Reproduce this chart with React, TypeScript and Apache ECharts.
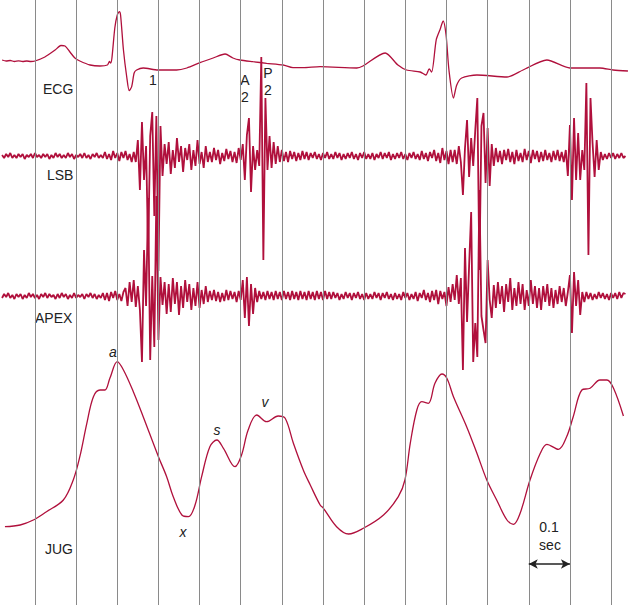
import React, { useEffect, useRef } from "react";
import * as echarts from "echarts";

// time axis in milliseconds; vertical timing lines every 100 ms (0.1 sec)
const TIME_LINES = [0, 100, 200, 300, 400, 500, 600, 700, 800, 900, 1000, 1100, 1200, 1300, 1400];

// ECG: [ms, deflection]
const ECG: [number, number][] = [
  [-80, 2], [-70, 1], [-60, 1.5], [-50, 0.5], [-40, 1.2], [-30, 0.5], [-20, 1], [-10, 0.5], [0, 1],
  [24, 5], [49, 12], [63, 16.5], [73, 16], [85, 10], [97, 4], [109, 1], [134, -3], [158, -4],
  [176, -3], [181, 0.5], [184, -1], [187, 4], [194, 34], [200, 47], [205, 50.3], [208, 47],
  [215, 12], [223, -15], [229, -28.7], [235, -24.7], [241, -11], [247, -8], [263, -6], [299, -8],
  [344, -8], [369, -6], [401, -0.7], [433, 4], [462, 8], [481, 4], [498, 2], [530, 0.3], [563, -1.3],
  [603, -3], [627, -5.7], [651, -5.7], [693, -4.7], [782, -6], [797, -4], [851, 9], [882, -3],
  [903, -8], [936, -10], [950, -13], [958, -7], [964, -10], [975, 22], [984, 32], [992, 41],
  [999, 27], [1006, -8], [1017, -36], [1025, -23], [1037, -16], [1074, -13], [1147, -15],
  [1186, -8], [1244, 2], [1300, -6], [1373, -6], [1405, -8], [1441, -9],
];

// phonocardiograms sampled every 5 ms starting at -80 ms
const PCG_T0 = -80;
const PCG_DT = 5;

const LSB: number[] = [
  1, -2, 2, -1, 3, -2, 1, -2, 2, -1,
  2, -3, 1, -1, 2, -2, 3, -1, 1, -2,
  2, -1, 2, -3, 1, -2, 3, -1, 2, -2,
  1, -2, 3, -1, 2, -3, 1, -1, 2, -2,
  3, -2, 1, -3, 2, -1, 3, -2, 1, -2,
  4, -3, 2, -4, 5, -2, 3, -5, 4, -2,
  5, -4, 2, -6,
  4, -6, 16, -34, 34, -24, 10, -95, 20, 44, -60, 40, -115, 30, -20, 12,
  -8, 14, -18, 6, -12, 18, -6, 10, -16, 8, -4, 12, -14, 6, -10, 16, -8, 4, -12, 10,
  -6, 4, -6, 8, -4, 6, -8, 3, -5, 7, -3, 5, -6, 4, -7, 8, -4,
  12, -24, 21, 38, -36, 10, -14, 6, -10, 99, -104, 58, -14, 20, -12, 14, -8, 10, -6,
  6, -5, 4, -6, 5, -3, 4, -5, 3, -4, 5, -3, 4, -4,
  3, -2, 4, -3, 2, -4, 3, -2, 4, -3,
  2, -3, 4, -2, 3, -4, 2, -3, 3, -2,
  4, -3, 2, -4, 3, -2, 4, -3, 2, -3,
  3, -4, 2, -2, 4, -3, 3, -2, 4, -4,
  2, -3, 3, -2, 4, -3, 2, -4, 3, -2,
  4, -3, 2, -4, 5, -3, 3, -5, 4, -2,
  6, -5, 3, -7, 8, -4, 5, -8, 6, -6,
  6, -8, 10, -6, -39, 8, 36, -21, 18, -10, 26, 58, -114, 30, 43, -27, 28, -30, 12, -10,
  8, -6, 5, -8, 6, -4, 7, -6, 4, -8,
  6, -5, 3, -6, 7, -4, 5, -7, 6, -3,
  5, -6, 4, -5, 6, -4, 3, -6, 5, -4,
  6, -5, 4, -6,
  6, -20, 31, -44, 38, -24, 23, -24, 6, -14, 73, -99, 58, 13, -21, 16, -14,
  4, -4, 2, -3, 3, -2, 3, -3, 2, -2, 3, -2, 0,
];

const APEX: number[] = [
  -2, 2, -1, 3, -2, 1, -3, 2, -1, 2,
  -3, 1, -2, 3, -1, 2, -2, 1, -3, 2,
  -1, 3, -2, 2, -1, 1, -3, 2, -2, 3,
  -1, 2, -3, 1, -2, 3, -2, 1, -1, 2,
  -3, 2, -1, 3, -2, 2, -3, 1, -2, 3,
  -4, 3, -5, 4, -2, 5, -4, 2, -5, 4,
  8, -10, 14, -6, 16, -11,
  10, -14, -66, 46, -10, 98, -64, 20, -51, 100, -44, 19, -9, 14,
  -18, 12, -16, 18, -8, 14, -19, 10, -12, 16, -6, 12, -14, 8, -10, 14, -12, 6, -8, 10,
  -6, 5, -4, 6, -5, 4, -6, 3, -5, 6, -4, 5, -3, 4, -6, 5, -4,
  16, -22, 19, -30, 12, -18, 8, -6,
  5, -3, 4, -4, 5, -3, 4, -4, 5, -3,
  4, -4, 5, -3, 4, -4, 5, -3, 4, -4,
  5, -3, 4, -4, 5, -3, 4, -4, 5, -3,
  4, -4, 5, -3, 4,
  -3, 4, -2, 3, -4, 2, -3, 4, -2, 3,
  -4, 3, -2, 4, -3, 2, -4, 3, -3, 2,
  -3, 4, -2, 3, -4, 3, -2, 4, -3, 2,
  -4, 3, -3, 2, -4, 4, -2, 3, -4, 2,
  -3, 4, -5, 3, -2, 6, -4, 3, -6, 5,
  -4, 6, -8, 5, -3,
  4, -10, 9, -6, 12, -4, 21, -8, 18, -74, 48, -26, 30, 84, -66, -27, -61, 106, -20, -34, -47, 36, -4, -22, 11,
  -12, 14, -8, 10, -16, 12, -6, 18, -14, 8,
  -10, 14, -8, 12, -14, 6, -10, 16, -8, 10,
  -12, 8, -14, 10, -6, 12, -10, 8, -12, 6,
  -8, 10, -6, 8, -10, 4,
  21, -37, 24, -10, 16, -19, 4, -6,
  4, -3, 3, -4, 2, -3, 4, -2, 3, -3,
  2, -4, 3, -2, 3, -3, 4, -2, 3, 2,
];

// Jugular venous pulse: [ms, deflection]
const JUG: [number, number][] = [
  [-73, 3.3], [-36, 5], [-4, 10], [28, 18.3], [69, 30], [93, 50], [109, 73.3], [126, 106.7],
  [142, 133.3], [158, 140], [170, 140], [182, 151.7], [200, 168.3], [215, 160], [239, 138.3],
  [263, 113.3], [300, 73.3], [320, 53.3], [336, 33.3], [357, 15], [373, 13.3], [389, 25],
  [405, 53.3], [425, 83.3], [442, 90], [458, 81.7], [486, 63.3], [502, 75], [518, 100],
  [539, 115], [563, 108.3], [591, 114], [608, 111.7], [628, 86.7], [652, 60], [669, 45],
  [693, 25], [701, 21.7], [733, 3.3], [762, -4], [798, 1.7], [847, 15], [883, 33.3], [899, 50],
  [912, 86.7], [928, 120], [940, 128.3], [956, 126.7], [972, 146.7], [989, 156], [1001, 151.7],
  [1017, 133.3], [1049, 103.3], [1074, 76.7], [1098, 50], [1122, 30], [1147, 10], [1163, 5.7],
  [1179, 16.7], [1203, 50], [1228, 76.7], [1244, 85.7], [1272, 80.7], [1292, 93.3], [1308, 113.3],
  [1329, 140], [1349, 141.7], [1373, 150], [1390, 150], [1406, 141.7], [1430, 114],
];

// calibration bar: 0.1 sec
const CAL_START = 1200;
const CAL_END = 1300;

// channel stacking offsets (chart units, downward)
const BASE = { ECG: 62, LSB: 156, APEX: 296, JUG: 530, CAL: 564 };

const TRACE = "#b0103c";
const INK = "#222";
const FONT = "'Liberation Sans', Arial, Helvetica, sans-serif";

export default function App() {
  const ref = useRef<HTMLDivElement>(null);
  useEffect(() => {
    if (!ref.current) return;
    const chart = echarts.init(ref.current, null, { renderer: "svg" });
    const pcg = (arr: number[], base: number) =>
      arr.map((v, i) => [PCG_T0 + PCG_DT * i, -base + v]);
    const pairs = (arr: [number, number][], base: number) => arr.map(([t, v]) => [t, -base + v]);
    const txt = (text: string, x: number, y: number, opts: any = {}) => ({
      type: "text",
      x,
      y,
      style: {
        text,
        fill: INK,
        font: `${opts.italic ? "italic " : ""}14px ${FONT}`,
        textAlign: opts.align || "center",
        textVerticalAlign: "middle",
      },
      silent: true,
    });
    chart.setOption({
      animation: false,
      grid: { left: 0, right: 0, top: 0, bottom: 0 },
      xAxis: { type: "value", min: -85, max: 1446, show: false },
      yAxis: { type: "value", min: -614, max: 0, show: false },
      series: [
        {
          type: "line",
          data: [],
          z: 1,
          markLine: {
            silent: true,
            symbol: "none",
            label: { show: false },
            lineStyle: { color: "#8a8a8a", width: 1, type: "solid" },
            data: TIME_LINES.map((t) => [{ coord: [t, 0] }, { coord: [t, -605] }]),
          },
        },
        {
          type: "line",
          data: pairs(ECG, BASE.ECG),
          smooth: 0.25,
          symbol: "none",
          z: 3,
          lineStyle: { color: TRACE, width: 1.3 },
        },
        {
          type: "line",
          data: pcg(LSB, BASE.LSB),
          symbol: "none",
          z: 3,
          lineStyle: { color: TRACE, width: 1.8 },
        },
        {
          type: "line",
          data: pcg(APEX, BASE.APEX),
          symbol: "none",
          z: 3,
          lineStyle: { color: TRACE, width: 1.8 },
        },
        {
          type: "line",
          data: pairs(JUG, BASE.JUG),
          smooth: 0.35,
          symbol: "none",
          z: 3,
          lineStyle: { color: TRACE, width: 1.3 },
          markLine: {
            silent: true,
            symbol: ["arrow", "arrow"],
            symbolSize: [7, 9],
            label: { show: false },
            lineStyle: { color: INK, width: 1.5, type: "solid" },
            data: [[{ coord: [CAL_START, -BASE.CAL] }, { coord: [CAL_END, -BASE.CAL] }]],
          },
        },
      ],
      graphic: [
        txt("ECG", 43, 89, { align: "left" }),
        txt("1", 153, 80),
        txt("A", 245, 80),
        txt("2", 245, 97),
        txt("P", 268, 73),
        txt("2", 268, 90),
        txt("LSB", 47, 175, { align: "left" }),
        txt("APEX", 35, 318, { align: "left" }),
        txt("JUG", 45, 549, { align: "left" }),
        txt("a", 113, 352, { italic: true }),
        txt("x", 183, 532, { italic: true }),
        txt("s", 217, 430, { italic: true }),
        txt("v", 265, 402, { italic: true }),
        txt("0.1", 549, 527),
        txt("sec", 550, 545),
      ],
    });
    return () => chart.dispose();
  }, []);
  return (
    <div
      ref={ref}
      style={{ position: "fixed", left: 0, top: 0, width: 630, height: 614, background: "#fff" }}
    />
  );
}
